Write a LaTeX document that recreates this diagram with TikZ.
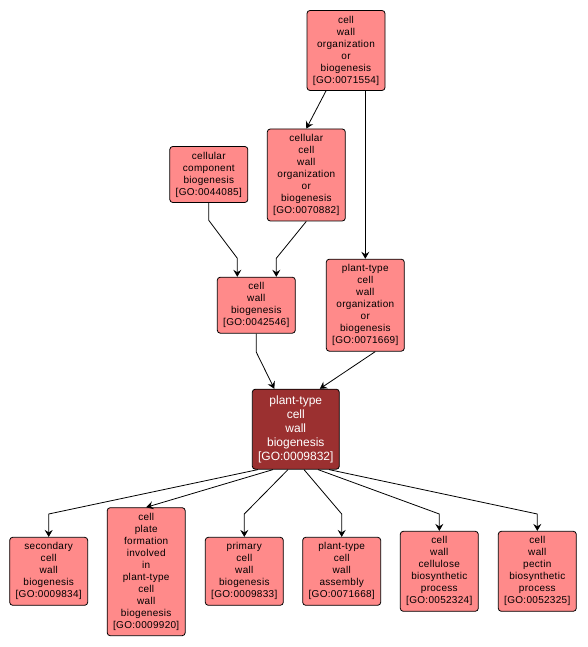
\documentclass[tikz,border=0pt]{standalone}
\usepackage{fontspec}
\setmainfont{Liberation Sans}
\newfontfamily\gofont[LetterSpace=3]{Liberation Sans}
\usepackage{tikz}
\usetikzlibrary{arrows.meta}
\definecolor{cterm}{HTML}{FF8A8A}
\definecolor{cfocus}{HTML}{9B3030}
\tikzset{
  term/.style={draw, rounded corners=3pt, align=center, fill=cterm,
               font=\gofont\fontsize{10}{12}\selectfont, line width=0.8pt,
               minimum width=78pt, inner xsep=1pt, inner ysep=1pt,
               minimum height={#1*12pt+8pt}},
  focus/.style={draw, rounded corners=3pt, align=center, fill=cfocus, text=white,
                font=\fontsize{12}{14}\selectfont, line width=0.8pt,
                minimum width=87pt, minimum height=80pt, inner sep=1pt},
  isa/.style={-{Stealth[length=7pt, width=8pt, inset=2.5pt]}, line width=0.8pt},
}
\begin{document}
\begin{tikzpicture}[x=1pt, y=1pt]
  \useasboundingbox (0,0) rectangle (587,647);
  % rows where the connectors bend
  \coordinate (midrow) at (0,388.7);
  \coordinate (lowrow) at (0,133);
  % upper part
  \node[term=6] (wco) at (346,596.5) {cell\\wall\\organization\\or\\biogenesis\\{[}GO:0071554{]}};
  \node[term=7] (ccwo) at (306.3,472) {cellular\\cell\\wall\\organization\\or\\biogenesis\\{[}GO:0070882{]}};
  \node[term=4] (ccb) at (208.8,472.5) {cellular\\component\\biogenesis\\{[}GO:0044085{]}};
  \node[term=4] (cwb) at (256.3,341.8) {cell\\wall\\biogenesis\\{[}GO:0042546{]}};
  \node[term=7] (ptcwo) at (365.3,341.8) {plant-type\\cell\\wall\\organization\\or\\biogenesis\\{[}GO:0071669{]}};
  \node[focus] (ptcwb) at (295.8,217.8) {plant-type\\cell\\wall\\biogenesis\\{[}GO:0009832{]}};
  % lower row
  \node[term=5] (scwb) at (48.7,75.7) {secondary\\cell\\wall\\biogenesis\\{[}GO:0009834{]}};
  \node[term=10] (cpf) at (146.2,75.3) {cell\\plate\\formation\\involved\\in\\plant-type\\cell\\wall\\biogenesis\\{[}GO:0009920{]}};
  \node[term=5] (pcwb) at (244.3,75.7) {primary\\cell\\wall\\biogenesis\\{[}GO:0009833{]}};
  \node[term=5] (ptcwa) at (341.7,75.7) {plant-type\\cell\\wall\\assembly\\{[}GO:0071668{]}};
  \node[term=6] (cwcb) at (439.3,75.7) {cell\\wall\\cellulose\\biosynthetic\\process\\{[}GO:0052324{]}};
  \node[term=6] (cwpb) at (537.3,75.7) {cell\\wall\\pectin\\biosynthetic\\process\\{[}GO:0052325{]}};
  % connectors
  \draw[isa] ([xshift=-20pt]wco.south) -- (ccwo.north);
  \draw[isa] (wco.south -| ptcwo.north) -- (ptcwo.north);
  \draw[isa] (ccb.south) -- ++(0,-17.5) -- ([xshift=-19pt]cwb.north |- midrow) -- ([xshift=-19pt]cwb.north);
  \draw[isa] (ccwo.south) -- ([xshift=20pt]cwb.north |- midrow) -- ([xshift=20pt]cwb.north);
  \draw[isa] (cwb.south) -- ++(0,-18.6) -- ([xshift=-21.5pt]ptcwb.north);
  \draw[isa] ([xshift=10pt]ptcwo.south) -- ([xshift=24pt]ptcwb.north);
  \draw[isa] ([xshift=-37.8pt]ptcwb.south) -- (scwb.north |- lowrow) -- (scwb.north);
  \draw[isa] ([xshift=-22.8pt]ptcwb.south) -- (cpf.north);
  \draw[isa] ([xshift=-7.8pt]ptcwb.south) -- (pcwb.north |- lowrow) -- (pcwb.north);
  \draw[isa] ([xshift=8.2pt]ptcwb.south) -- (ptcwa.north |- lowrow) -- (ptcwa.north);
  \draw[isa] ([xshift=22.2pt]ptcwb.south) -- (cwcb.north |- lowrow) -- (cwcb.north);
  \draw[isa] ([xshift=33.2pt]ptcwb.south) -- (cwpb.north |- lowrow) -- (cwpb.north);
\end{tikzpicture}
\end{document}
